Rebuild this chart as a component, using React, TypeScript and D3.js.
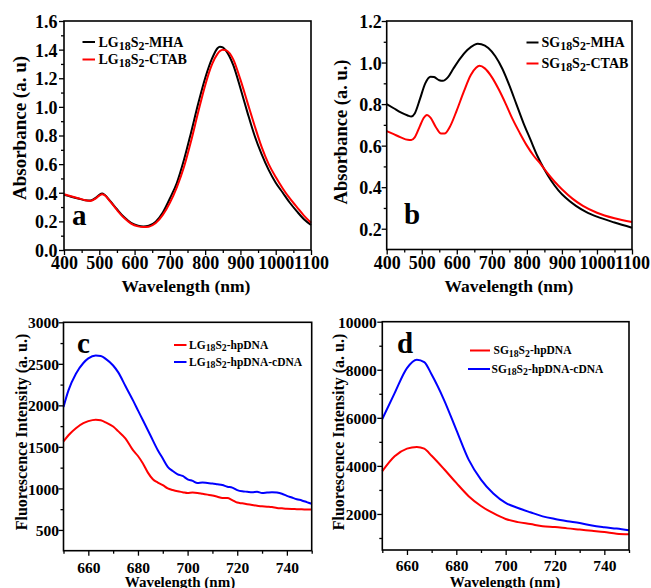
import React, { useEffect, useRef } from 'react';
import * as d3 from 'd3';

const FONT = '"Liberation Serif", "Times New Roman", serif';

// panel a - LG18S2 absorbance
const wlA = [400, 420, 440, 460, 475, 490, 500, 508, 515, 530, 550, 570, 590, 610, 625, 640, 660, 680, 700, 720, 740, 760, 780, 800, 820, 835, 842, 850, 860, 880, 900, 920, 940, 960, 980, 1000, 1020, 1040, 1060, 1080, 1100];
const absLgMha = [0.385, 0.372, 0.36, 0.348, 0.345, 0.365, 0.386, 0.395, 0.386, 0.345, 0.285, 0.23, 0.19, 0.17, 0.165, 0.17, 0.198, 0.262, 0.36, 0.47, 0.63, 0.82, 1.02, 1.2, 1.34, 1.41, 1.42, 1.415, 1.39, 1.29, 1.13, 0.96, 0.8, 0.67, 0.56, 0.47, 0.4, 0.33, 0.27, 0.215, 0.175];
const absLgCtab = [0.39, 0.376, 0.362, 0.348, 0.343, 0.36, 0.38, 0.39, 0.384, 0.342, 0.28, 0.225, 0.185, 0.165, 0.16, 0.163, 0.188, 0.245, 0.33, 0.44, 0.58, 0.76, 0.96, 1.15, 1.3, 1.37, 1.39, 1.4, 1.395, 1.33, 1.19, 1.03, 0.87, 0.72, 0.6, 0.51, 0.43, 0.36, 0.3, 0.24, 0.19];

// panel b - SG18S2 absorbance
const wlBMha = [400, 420, 440, 460, 470, 480, 495, 510, 525, 535, 550, 560, 575, 590, 610, 630, 650, 660, 670, 690, 710, 730, 750, 770, 790, 810, 830, 850, 870, 890, 910, 940, 970, 1000, 1050, 1100];
const absSgMha = [0.8, 0.78, 0.76, 0.745, 0.74, 0.755, 0.825, 0.9, 0.932, 0.93, 0.915, 0.912, 0.93, 0.97, 1.02, 1.06, 1.085, 1.09, 1.088, 1.07, 1.03, 0.97, 0.89, 0.8, 0.71, 0.63, 0.55, 0.485, 0.43, 0.385, 0.35, 0.31, 0.28, 0.258, 0.23, 0.205];
const wlBCtab = [400, 420, 440, 460, 470, 480, 495, 505, 515, 525, 540, 555, 565, 580, 600, 620, 640, 655, 665, 680, 700, 720, 740, 760, 780, 800, 820, 840, 860, 880, 900, 930, 960, 1000, 1050, 1100];
const absSgCtab = [0.67, 0.655, 0.64, 0.628, 0.627, 0.64, 0.695, 0.732, 0.748, 0.735, 0.69, 0.658, 0.658, 0.69, 0.77, 0.86, 0.94, 0.975, 0.984, 0.972, 0.93, 0.87, 0.8, 0.725, 0.66, 0.6, 0.55, 0.51, 0.465, 0.425, 0.39, 0.345, 0.31, 0.277, 0.25, 0.232];

// panel c - LG18S2 fluorescence
const wlCBlue = [650, 652, 655, 658, 660, 663, 665, 667, 670, 672, 675, 678, 680, 682, 685, 688, 690, 692, 694, 696, 698, 700, 702, 704, 706, 708, 710, 712, 714, 716, 718, 720, 722, 724, 726, 728, 730, 732, 734, 736, 738, 740, 742, 744, 746, 748, 750];
const flLgCdna = [1980, 2180, 2380, 2510, 2565, 2600, 2595, 2560, 2480, 2400, 2230, 2060, 1940, 1820, 1640, 1460, 1360, 1260, 1210, 1170, 1150, 1110, 1090, 1065, 1070, 1065, 1060, 1050, 1040, 1020, 1010, 980, 965, 960, 955, 960, 945, 950, 955, 950, 935, 910, 890, 870, 855, 835, 815];
const wlCRed = [650, 652, 655, 658, 660, 663, 665, 667, 670, 672, 675, 678, 680, 682, 684, 686, 688, 690, 692, 694, 696, 698, 700, 702, 704, 706, 708, 710, 712, 714, 716, 718, 720, 722, 724, 726, 728, 730, 732, 734, 736, 738, 740, 742, 744, 746, 748, 750];
const flLgHp = [1565, 1640, 1725, 1785, 1810, 1828, 1820, 1795, 1745, 1690, 1600, 1460, 1390, 1300, 1190, 1110, 1070, 1040, 1000, 980, 965, 955, 945, 950, 945, 935, 925, 915, 900, 885, 885, 860, 830, 820, 810, 800, 790, 785, 780, 775, 765, 760, 755, 752, 750, 748, 747, 745];

// panel d - SG18S2 fluorescence
const wlD = [650, 655, 660, 664, 667, 670, 675, 680, 685, 690, 695, 700, 705, 710, 715, 720, 725, 730, 735, 740, 745, 750];
const flSgCdna = [5950, 7030, 8070, 8420, 8320, 7800, 6750, 5500, 4260, 3430, 2850, 2460, 2250, 2070, 1900, 1790, 1700, 1620, 1520, 1450, 1390, 1320];
const flSgHp = [3780, 4400, 4720, 4790, 4720, 4420, 3870, 3290, 2740, 2330, 2030, 1790, 1660, 1580, 1490, 1460, 1400, 1350, 1300, 1250, 1180, 1160];

const ticksAbsX = [400, 500, 600, 700, 800, 900, 1000, 1100];
const ticksAbsAY = [0, 0.2, 0.4, 0.6, 0.8, 1.0, 1.2, 1.4, 1.6];
const ticksAbsBY = [0.2, 0.4, 0.6, 0.8, 1.0, 1.2];
const ticksFlX = [660, 680, 700, 720, 740];
const ticksFlCY = [500, 1000, 1500, 2000, 2500, 3000];
const ticksFlDY = [2000, 4000, 6000, 8000, 10000];

type Series = { xs: number[]; ys: number[]; color: string };
type Legend = { label: [string, string, string, string, string]; color: string; x1: number; x2: number; y: number; tx: number };

type Panel = {
  left: number; right: number; top: number; bottom: number;
  xDomain: [number, number]; yDomain: [number, number];
  xTicks: number[]; yTicks: number[]; xMinor: number[]; yMinor: number[];
  yFormat: (v: number) => string;
  tickFont: number; xLabelY: number; yLabelGap: number;
  xTitle: { x: number; y: number; size: number };
  yTitle: { text: string; x: number; y: number; size: number };
  letter: { text: string; x: number; y: number };
  series: Series[];
  legend: Legend[]; legendFont: number;
};

const range = (a: number, b: number, s: number) => d3.range(a, b + s / 2, s);

const panels: Panel[] = [
  {
    left: 64, right: 311, top: 21, bottom: 250,
    xDomain: [400, 1100], yDomain: [0, 1.6],
    xTicks: ticksAbsX, yTicks: ticksAbsAY, xMinor: range(450, 1050, 100), yMinor: range(0.1, 1.5, 0.2),
    yFormat: d3.format('.1f'), tickFont: 18, xLabelY: 268.5, yLabelGap: 6.5,
    xTitle: { x: 186, y: 292, size: 17.5 },
    yTitle: { text: 'Absorbance (a. u)', x: 26, y: 128, size: 19 },
    letter: { text: 'a', x: 72, y: 225 },
    series: [
      { xs: wlA, ys: absLgMha, color: '#000000' },
      { xs: wlA, ys: absLgCtab, color: '#ff0000' },
    ],
    legend: [
      { label: ['LG', '18', 'S', '2', '-MHA'], color: '#000000', x1: 82.5, x2: 95, y: 42, tx: 98.5 },
      { label: ['LG', '18', 'S', '2', '-CTAB'], color: '#ff0000', x1: 82.5, x2: 95, y: 59.5, tx: 98.5 },
    ],
    legendFont: 14,
  },
  {
    left: 386.7, right: 632, top: 21, bottom: 249.5,
    xDomain: [400, 1100], yDomain: [0.1, 1.2],
    xTicks: ticksAbsX, yTicks: ticksAbsBY, xMinor: range(450, 1050, 100), yMinor: range(0.3, 1.1, 0.2),
    yFormat: d3.format('.1f'), tickFont: 18, xLabelY: 268.5, yLabelGap: 5,
    xTitle: { x: 509, y: 292, size: 17.5 },
    yTitle: { text: 'Absorbance (a. u.)', x: 347, y: 132, size: 18.5 },
    letter: { text: 'b', x: 404, y: 224 },
    series: [
      { xs: wlBMha, ys: absSgMha, color: '#000000' },
      { xs: wlBCtab, ys: absSgCtab, color: '#ff0000' },
    ],
    legend: [
      { label: ['SG', '18', 'S', '2', '-MHA'], color: '#000000', x1: 526.5, x2: 538.5, y: 42.5, tx: 541.5 },
      { label: ['SG', '18', 'S', '2', '-CTAB'], color: '#ff0000', x1: 526.5, x2: 538.5, y: 63.5, tx: 541.5 },
    ],
    legendFont: 14,
  },
  {
    left: 63.5, right: 311.7, top: 322.3, bottom: 550.7,
    xDomain: [650, 750], yDomain: [250, 3000],
    xTicks: ticksFlX, yTicks: ticksFlCY, xMinor: range(650, 750, 20), yMinor: range(750, 2750, 500),
    yFormat: d3.format('d'), tickFont: 15.5, xLabelY: 573, yLabelGap: 4.5,
    xTitle: { x: 180, y: 586.5, size: 15 },
    yTitle: { text: 'Fluorescence Intensity (a. u.)', x: 26.5, y: 432, size: 16 },
    letter: { text: 'c', x: 77, y: 353 },
    series: [
      { xs: wlCRed, ys: flLgHp, color: '#ff0000' },
      { xs: wlCBlue, ys: flLgCdna, color: '#0000ff' },
    ],
    legend: [
      { label: ['LG', '18', 'S', '2', '-hpDNA'], color: '#ff0000', x1: 174, x2: 186.5, y: 345, tx: 189 },
      { label: ['LG', '18', 'S', '2', '-hpDNA-cDNA'], color: '#0000ff', x1: 174, x2: 186.5, y: 362, tx: 189 },
    ],
    legendFont: 11.5,
  },
  {
    left: 382.3, right: 629, top: 321.7, bottom: 550,
    xDomain: [650, 750], yDomain: [500, 10000],
    xTicks: ticksFlX, yTicks: ticksFlDY, xMinor: range(650, 750, 20), yMinor: range(1000, 9000, 2000),
    yFormat: d3.format('d'), tickFont: 15.5, xLabelY: 571, yLabelGap: 5.5,
    xTitle: { x: 505, y: 586.5, size: 15 },
    yTitle: { text: 'Fluorescence Intensity (a. u.)', x: 343.5, y: 432, size: 16 },
    letter: { text: 'd', x: 397, y: 353 },
    series: [
      { xs: wlD, ys: flSgHp, color: '#ff0000' },
      { xs: wlD, ys: flSgCdna, color: '#0000ff' },
    ],
    legend: [
      { label: ['SG', '18', 'S', '2', '-hpDNA'], color: '#ff0000', x1: 470, x2: 490, y: 350.5, tx: 493.5 },
      { label: ['SG', '18', 'S', '2', '-hpDNA-cDNA'], color: '#0000ff', x1: 468, x2: 490, y: 369, tx: 491.5 },
    ],
    legendFont: 11.5,
  },
];

function drawPanel(svg: d3.Selection<SVGSVGElement, unknown, null, undefined>, p: Panel) {
  const g = svg.append('g');
  const x = d3.scaleLinear().domain(p.xDomain).range([p.left, p.right]);
  const y = d3.scaleLinear().domain(p.yDomain).range([p.bottom, p.top]);

  // minor ticks
  g.append('g').attr('transform', `translate(0,${p.bottom})`)
    .call(d3.axisBottom(x).tickValues(p.xMinor).tickSize(3).tickFormat(() => ''))
    .call(a => a.select('.domain').remove());
  g.append('g').attr('transform', `translate(${p.left},0)`)
    .call(d3.axisLeft(y).tickValues(p.yMinor).tickSize(3).tickFormat(() => ''))
    .call(a => a.select('.domain').remove());

  // major ticks + labels
  const xa = g.append('g').attr('transform', `translate(0,${p.bottom})`)
    .call(d3.axisBottom(x).tickValues(p.xTicks).tickSize(5).tickFormat(d3.format('d')));
  xa.select('.domain').remove();
  xa.selectAll('text')
    .attr('y', p.xLabelY - p.bottom).attr('dy', null)
    .attr('font-family', FONT).attr('font-weight', 'bold').attr('font-size', p.tickFont).attr('fill', '#000');

  const ya = g.append('g').attr('transform', `translate(${p.left},0)`)
    .call(d3.axisLeft(y).tickValues(p.yTicks).tickSize(5).tickFormat(d => p.yFormat(d as number)));
  ya.select('.domain').remove();
  ya.selectAll('text')
    .attr('x', -p.yLabelGap).attr('dy', '0.36em')
    .attr('font-family', FONT).attr('font-weight', 'bold').attr('font-size', p.tickFont).attr('fill', '#000');

  g.selectAll('.tick line').attr('stroke', '#000').attr('stroke-width', 1.3);

  // curves
  const line = d3.line<[number, number]>()
    .x(d => x(d[0]))
    .y(d => y(d[1]))
    .curve(d3.curveMonotoneX);
  p.series.forEach(s => {
    const pts = s.xs.map((v, i) => [v, s.ys[i]] as [number, number]);
    g.append('path').attr('d', line(pts)).attr('fill', 'none')
      .attr('stroke', s.color).attr('stroke-width', 2);
  });

  // frame
  g.append('rect')
    .attr('x', p.left).attr('y', p.top)
    .attr('width', p.right - p.left).attr('height', p.bottom - p.top)
    .attr('fill', 'none').attr('stroke', '#000').attr('stroke-width', 1.6);

  // legend
  p.legend.forEach(l => {
    g.append('line').attr('x1', l.x1).attr('x2', l.x2).attr('y1', l.y).attr('y2', l.y)
      .attr('stroke', l.color).attr('stroke-width', 2);
    const fs = p.legendFont;
    const sub = fs * 0.85;
    const shift = fs * 0.22;
    const t = g.append('text').attr('x', l.tx).attr('y', l.y + fs * 0.34)
      .attr('font-family', FONT).attr('font-weight', 'bold').attr('font-size', fs);
    t.append('tspan').text(l.label[0]);
    t.append('tspan').attr('font-size', sub).attr('dy', shift).text(l.label[1]);
    t.append('tspan').attr('font-size', fs).attr('dy', -shift).text(l.label[2]);
    t.append('tspan').attr('font-size', sub).attr('dy', shift).text(l.label[3]);
    t.append('tspan').attr('font-size', fs).attr('dy', -shift).text(l.label[4]);
  });

  // titles
  g.append('text').attr('x', p.xTitle.x).attr('y', p.xTitle.y)
    .attr('text-anchor', 'middle').attr('font-family', FONT).attr('font-weight', 'bold')
    .attr('font-size', p.xTitle.size).text('Wavelength (nm)');
  g.append('text')
    .attr('transform', `translate(${p.yTitle.x},${p.yTitle.y}) rotate(-90)`)
    .attr('text-anchor', 'middle').attr('font-family', FONT).attr('font-weight', 'bold')
    .attr('font-size', p.yTitle.size).text(p.yTitle.text);
  g.append('text').attr('x', p.letter.x).attr('y', p.letter.y)
    .attr('font-family', FONT).attr('font-weight', 'bold').attr('font-size', 29)
    .text(p.letter.text);
}

export default function App() {
  const ref = useRef<SVGSVGElement>(null);

  useEffect(() => {
    if (!ref.current) return;
    const svg = d3.select(ref.current);
    svg.selectAll('*').remove();
    svg.append('rect').attr('width', 651).attr('height', 588).attr('fill', '#fff');
    panels.forEach(p => drawPanel(svg, p));
  }, []);

  return (
    <svg ref={ref} width={651} height={588}
      style={{ position: 'absolute', left: 0, top: 0, display: 'block' }} />
  );
}
